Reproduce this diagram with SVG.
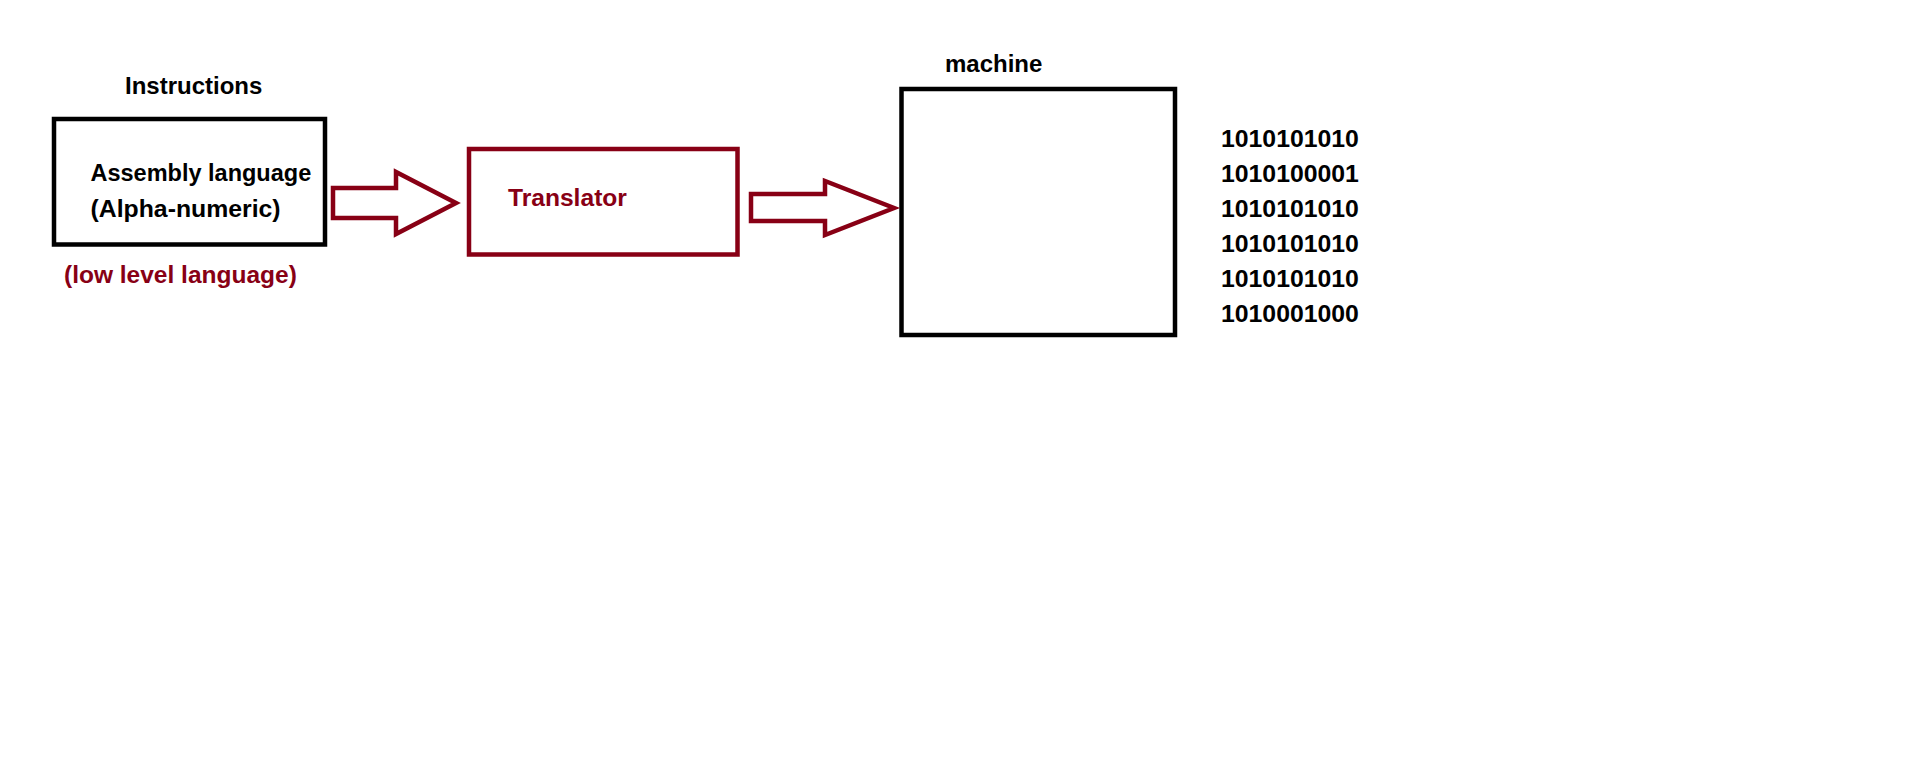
<svg xmlns="http://www.w3.org/2000/svg" width="1910" height="772" viewBox="0 0 1910 772">
  <style>
    .t { font-family: "Liberation Sans", Arial, sans-serif; font-weight: bold; font-size: 24px; fill: #000000; }
    .r { fill: #880015; }
    .bin { font-size: 24.8px; }
    .box { fill: none; stroke: #000000; stroke-width: 4.5; }
    .rbox { fill: none; stroke: #880015; stroke-width: 4.5; }
    .arrow { fill: none; stroke: #880015; stroke-width: 4.5; stroke-linejoin: miter; }
  </style>
  <rect width="1910" height="772" fill="#ffffff"/>
  <g id="instructions">
    <text class="t" x="125" y="94">Instructions</text>
    <rect class="box" x="54" y="119" width="271" height="125.5"/>
    <text class="t" x="90.5" y="180.7" style="font-size:23.5px">Assembly language</text>
    <text class="t" x="90.5" y="216.7" style="font-size:24.8px">(Alpha-numeric)</text>
    <text class="t r" x="64" y="282.7" style="font-size:24.5px">(low level language)</text>
  </g>
  <g id="translator">
    <rect class="rbox" x="469" y="149" width="268.5" height="105.5"/>
    <text class="t r" x="508" y="206" style="font-size:24.6px">Translator</text>
  </g>
  <g id="machine">
    <text class="t" x="945" y="71.7">machine</text>
    <rect class="box" x="901.5" y="89" width="273.5" height="246"/>
  </g>
  <g id="binary">
    <text class="t bin" x="1221" y="146.7">1010101010</text>
    <text class="t bin" x="1221" y="181.7">1010100001</text>
    <text class="t bin" x="1221" y="216.7">1010101010</text>
    <text class="t bin" x="1221" y="251.7">1010101010</text>
    <text class="t bin" x="1221" y="286.7">1010101010</text>
    <text class="t bin" x="1221" y="321.7">1010001000</text>
  </g>
  <g id="connectors">
    <polygon class="arrow" points="333,188 396,188 396,172 456,203 396,234 396,218 333,218"/>
    <polygon class="arrow" points="751,194 825,194 825,181 894,208 825,235 825,221 751,221"/>
  </g>
</svg>
